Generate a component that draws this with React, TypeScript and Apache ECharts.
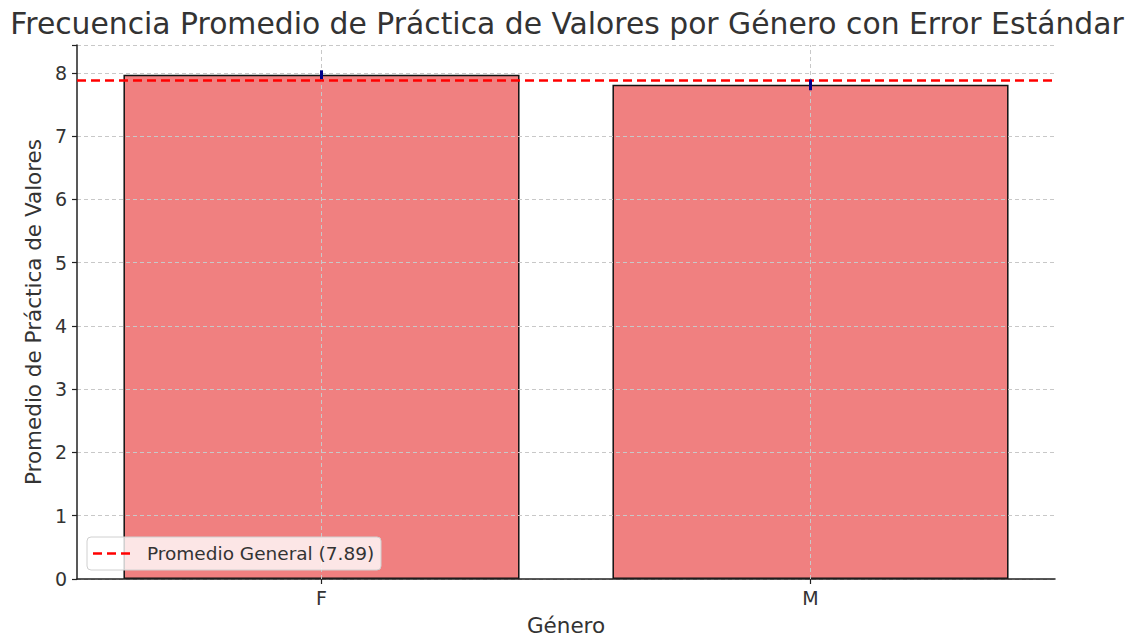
import React, { useEffect, useRef } from "react";
import * as echarts from "echarts";

const categories = ["F", "M"];
const means = [7.97, 7.81];
const stdErrors = [0.07, 0.085];
const overallMean = 7.89;
const yTicks = [0, 1, 2, 3, 4, 5, 6, 7, 8];

const titleText = "Frecuencia Promedio de Práctica de Valores por Género con Error Estándar";
const legendText = `Promedio General (${overallMean.toFixed(2)})`;

export default function App() {
  const ref = useRef<HTMLDivElement>(null);
  useEffect(() => {
    if (!ref.current) return;
    const chart = echarts.init(ref.current, undefined, { renderer: "svg" });
    const font = "DejaVu Sans";
    const errData = categories.map((c, i) => [i, means[i] - stdErrors[i], means[i] + stdErrors[i]]);
    const gridLine = { color: "#c8c8c8", type: [4, 3], width: 1 };
    chart.setOption({
      animation: false,
      textStyle: { fontFamily: font },
      title: {
        text: titleText,
        left: "center",
        top: 3,
        textStyle: { fontFamily: font, fontSize: 29.8, fontWeight: "normal", color: "#333" },
      },
      grid: { left: 77, right: 79, top: 45, bottom: 60, containLabel: false, outerBoundsMode: "none" },
      xAxis: {
        type: "category",
        data: categories,
        name: "Género",
        nameLocation: "middle",
        nameGap: 35,
        nameTextStyle: { fontSize: 21.5, color: "#333", fontFamily: font },
        z: 5,
        axisLine: { show: true, lineStyle: { color: "#222", width: 1.5 } },
        axisTick: { show: true, alignWithLabel: true, length: 5, lineStyle: { color: "#222", width: 1.2 } },
        axisLabel: { fontSize: 19, color: "#333", margin: 9, fontFamily: font },
        splitLine: { show: false },
      },
      yAxis: {
        type: "value",
        min: 0,
        max: 8.44,
        interval: 1,
        name: "Promedio de Práctica de Valores",
        nameLocation: "middle",
        nameGap: 31,
        nameTextStyle: { fontSize: 21.5, color: "#333", fontFamily: font },
        z: 5,
        axisLine: { show: true, lineStyle: { color: "#222", width: 1.5 } },
        axisTick: { show: true, length: 5, lineStyle: { color: "#222", width: 1.2 } },
        axisLabel: {
          fontSize: 19,
          color: "#333",
          margin: 10,
          fontFamily: font,
          formatter: (v: number) => (yTicks.includes(v) ? String(v) : ""),
        },
        splitLine: { show: true, lineStyle: gridLine },
      },
      series: [
        {
          type: "bar",
          data: means,
          barWidth: "81%",
          z: 2,
          itemStyle: { color: "#F08080", borderColor: "#111", borderWidth: 1.5 },
          markLine: {
            silent: true,
            symbol: "none",
            z: 6,
            label: { show: false },
            lineStyle: { color: "#ff0000", type: [9, 5], width: 2.5 },
            data: [
              { xAxis: "F", lineStyle: gridLine },
              { xAxis: "M", lineStyle: gridLine },
              { yAxis: overallMean },
            ],
          },
        },
        {
          type: "custom",
          z: 7,
          data: errData,
          renderItem: (params: any, api: any) => {
            const x = api.value(0);
            const lo = api.coord([x, api.value(1)]);
            const hi = api.coord([x, api.value(2)]);
            return {
              type: "line",
              shape: { x1: lo[0], y1: lo[1], x2: hi[0], y2: hi[1] },
              style: { stroke: "#00008B", lineWidth: 3 },
            };
          },
        },
      ],
      graphic: {
        elements: [
          {
            type: "rect",
            z: 100,
            shape: { x: 87, y: 537, width: 294, height: 33, r: 4 },
            style: { fill: "rgba(255,255,255,0.8)", stroke: "#d0d0d0", lineWidth: 1 },
          },
          {
            type: "line",
            z: 101,
            shape: { x1: 93, y1: 553.5, x2: 132, y2: 553.5 },
            style: { stroke: "#ff0000", lineWidth: 2.5, lineDash: [9, 5] },
          },
          {
            type: "text",
            z: 101,
            x: 147,
            y: 553.5,
            style: {
              text: legendText,
              fontSize: 18.5,
              fontFamily: font,
              fill: "#333",
              verticalAlign: "middle",
              align: "left",
            },
          },
        ],
      },
    });
    return () => chart.dispose();
  }, []);
  return (
    <div
      ref={ref}
      style={{ position: "absolute", left: 0, top: 0, width: 1134, height: 639, background: "#fff" }}
    />
  );
}
